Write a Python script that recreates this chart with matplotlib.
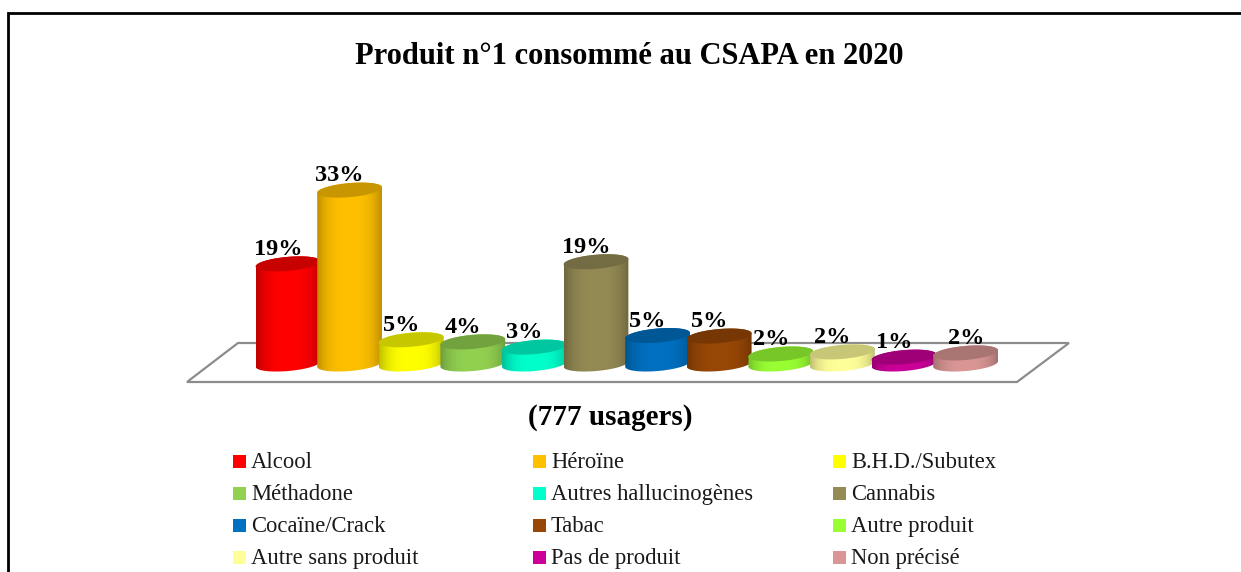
import numpy as np
import matplotlib
matplotlib.use('Agg')
import matplotlib.pyplot as plt
from matplotlib.colors import to_rgb
from matplotlib.patches import Polygon, Rectangle
from matplotlib.transforms import Affine2D

plt.rcParams['font.family'] = ['Liberation Serif', 'DejaVu Serif']

# Données
produits = ['Alcool', 'Héroïne', 'B.H.D./Subutex', 'Méthadone', 'Autres hallucinogènes', 'Cannabis',
            'Cocaïne/Crack', 'Tabac', 'Autre produit', 'Autre sans produit', 'Pas de produit', 'Non précisé']
valeurs = [19.0, 33.0, 4.6, 4.2, 3.2, 19.4, 5.4, 5.3, 1.9, 2.3, 1.3, 2.1]
couleurs = ['#FF0000', '#FFC000', '#FFFF00', '#92D050', '#00FFCC', '#948A54',
            '#0070C0', '#974706', '#99FF33', '#FFFF99', '#CC0099', '#D99694']

L, H = 1241, 572
PAS = 61.6            # pixels entre deux barres
ECH = 5.27            # pixels pour 1 %
X0, Y0 = 288, 364     # centre de la base de la première barre
A, B = 32.5, 7.0      # demi-axes des ellipses en pixels
TILT = np.radians(5)

fig = plt.figure(figsize=(L / 100, H / 100), dpi=100)
ax = fig.add_axes([0, 0, 1, 1])
ax.set_axis_off()
xlim = (-X0 / PAS, (L - X0) / PAS)
ylim = ((Y0 - H) / ECH, Y0 / ECH)

# repère en pixels (origine en haut à gauche) pour le décor
px = Affine2D().scale(1, -1).translate(0, H)


def ellipse(cx, cy, t):
    # points d'une ellipse inclinée, dans les unités de l'axe
    dx = A * np.cos(t) * np.cos(TILT) - B * np.sin(t) * np.sin(TILT)
    dy = A * np.cos(t) * np.sin(TILT) + B * np.sin(t) * np.cos(TILT)
    return np.column_stack([cx + dx / PAS, cy + dy / ECH])


# cadre et plancher
ax.plot([8, 8, 1241], [572, 13, 13], color='black', lw=2.0, transform=px, zorder=1, solid_joinstyle='miter')
ax.add_patch(Polygon([(187, 382), (238, 343), (1069, 343), (1017, 382)], closed=True, facecolor='white',
                     edgecolor='#8C8C8C', lw=1.6, transform=px, zorder=1))

# cylindres
for i, (v, c) in enumerate(zip(valeurs, couleurs)):
    rgb = np.array(to_rgb(c))
    z = 2 + i
    u = np.abs(np.linspace(-1, 1, 64))[None, :, None]
    degrade = rgb[None, None, :] * (1 - 0.25 * u ** 3)
    im = ax.imshow(degrade, extent=(i - A / PAS, i + A / PAS, 0 - 12 / ECH, v + 12 / ECH),
                   aspect='auto', zorder=z, interpolation='bilinear')
    bas = ellipse(i, 0, np.linspace(np.pi, 2 * np.pi, 60))
    haut = ellipse(i, v, np.linspace(0, np.pi, 60))
    corps = Polygon(np.vstack([bas, haut]), closed=True, transform=ax.transData)
    im.set_clip_path(corps)
    ax.add_patch(Polygon(ellipse(i, v, np.linspace(0, 2 * np.pi, 120)), closed=True,
                         facecolor=rgb * 0.78, edgecolor='none', zorder=z + 0.5))
    dx = 1 if i == len(valeurs) - 1 else -10
    ax.annotate(f'{v:.0f}%', (i, v), xytext=(dx * 0.72, 9 * 0.72), textcoords='offset points',
                ha='center', va='baseline', fontsize=17.5, fontweight='bold', color='black', zorder=30)

ax.set_xlim(xlim)
ax.set_ylim(ylim)

# textes
ax.text(629.5, 64, 'Produit n°1 consommé au CSAPA en 2020', transform=px, ha='center', va='baseline',
        fontsize=22, fontweight='bold', color='black')
ax.text(610, 425, '(777 usagers)', transform=px, ha='center', va='baseline',
        fontsize=21, fontweight='bold', color='black')

# légende
for i, (nom, c) in enumerate(zip(produits, couleurs)):
    x = 233 + 300 * (i % 3)
    y = 461.5 + 32 * (i // 3)
    ax.add_patch(Rectangle((x, y - 6.5), 13, 13, facecolor=c, edgecolor='none', transform=px))
    ax.text(x + 18, y + 6.5, nom, transform=px, ha='left', va='baseline', fontsize=16.3, color='#1a1a1a')

fig.savefig('out.png', dpi=100)
